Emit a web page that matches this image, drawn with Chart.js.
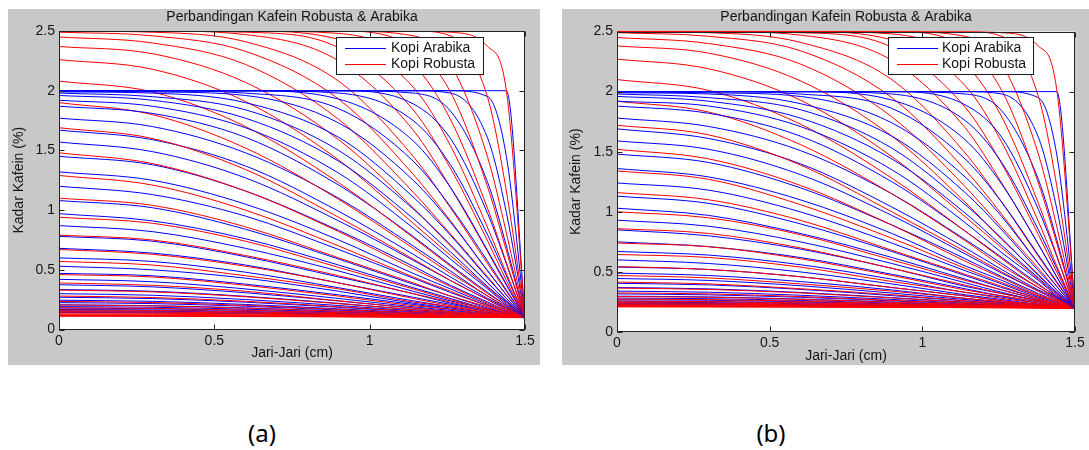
<!DOCTYPE html>
<html>
<head>
<meta charset="utf-8">
<script src="https://cdn.jsdelivr.net/npm/chart.js@4.4.1/dist/chart.umd.min.js"></script>
<style>
  html, body { margin: 0; padding: 0; background: #ffffff; }
  body { width: 1089px; height: 450px; position: relative; overflow: hidden; }
  .panel { position: absolute; top: 9px; height: 356px; background: #c8c8c8; }
  #panelA { left: 8px; width: 532px; }
  #panelB { left: 562px; width: 527px; }
  .panel canvas { position: absolute; left: 0; top: 0; }
  .cap { position: absolute; top: 416px; width: 60px; text-align: center; font-family: "Noto Sans", "Open Sans", sans-serif; font-size: 24px; line-height: 34px; color: #000; }
</style>
</head>
<body>
<div class="panel" id="panelA"><canvas id="chartA" width="532" height="356"></canvas></div>
<div class="panel" id="panelB"><canvas id="chartB" width="527" height="356"></canvas></div>
<div class="cap" style="left:232px">(a)</div>
<div class="cap" style="left:741px">(b)</div>
<script>
// ---- data ----
const radius = [0, 0.3, 0.6, 0.9, 1.14, 1.26, 1.38, 1.44, 1.5];
const xTickValues = [0, 0.5, 1, 1.5];
const yTickValues = [0, 0.5, 1, 1.5, 2, 2.5];
const seriesNames = ['Kopi Arabika', 'Kopi Robusta'];
const chartTitle = 'Perbandingan Kafein Robusta & Arabika';
const xLabel = 'Jari-Jari (cm)';
const yLabel = 'Kadar Kafein (%)';

const arabikaA = [
[2,2,2,2,2,2,2,2,0.1],
[2,2,2,2,2,2,1.95,1.45,0.1],
[2,2,2,2,2,1.98,1.6,0.98,0.1],
[2,2,2,2,1.98,1.83,1.23,0.7,0.1],
[2,2,2,2,1.89,1.6,0.97,0.55,0.1],
[2,2,2,1.98,1.75,1.38,0.79,0.45,0.1],
[2,2,2,1.93,1.58,1.19,0.66,0.38,0.1],
[2,2,1.98,1.85,1.41,1.03,0.57,0.33,0.1],
[2,1.99,1.96,1.73,1.25,0.9,0.49,0.29,0.1],
[1.99,1.98,1.9,1.61,1.11,0.79,0.43,0.26,0.1],
[1.98,1.95,1.84,1.5,1.01,0.71,0.39,0.24,0.1],
[1.96,1.92,1.77,1.41,0.93,0.65,0.36,0.23,0.1],
[1.92,1.87,1.69,1.31,0.85,0.59,0.34,0.21,0.1],
[1.87,1.81,1.61,1.21,0.78,0.54,0.31,0.2,0.1],
[1.77,1.7,1.48,1.1,0.7,0.49,0.28,0.19,0.1],
[1.67,1.59,1.37,0.99,0.63,0.44,0.26,0.18,0.1],
[1.57,1.49,1.27,0.91,0.58,0.41,0.25,0.17,0.1],
[1.45,1.38,1.16,0.83,0.53,0.37,0.23,0.16,0.1],
[1.32,1.25,1.05,0.75,0.47,0.34,0.21,0.15,0.1],
[1.2,1.13,0.95,0.67,0.43,0.31,0.2,0.15,0.1],
[1.08,1.02,0.84,0.59,0.38,0.28,0.18,0.14,0.1],
[0.97,0.91,0.76,0.54,0.35,0.26,0.17,0.14,0.1],
[0.87,0.82,0.68,0.49,0.32,0.24,0.17,0.13,0.1],
[0.78,0.74,0.61,0.44,0.3,0.22,0.16,0.13,0.1],
[0.68,0.64,0.54,0.39,0.27,0.21,0.15,0.12,0.1],
[0.6,0.57,0.48,0.35,0.24,0.19,0.14,0.12,0.1],
[0.53,0.5,0.43,0.32,0.22,0.18,0.14,0.12,0.1],
[0.47,0.45,0.38,0.29,0.21,0.17,0.13,0.115,0.1],
[0.42,0.4,0.34,0.26,0.19,0.16,0.128,0.113,0.1],
[0.375,0.357,0.308,0.239,0.179,0.15,0.124,0.111,0.1],
[0.335,0.32,0.278,0.219,0.167,0.143,0.12,0.11,0.1],
[0.3,0.287,0.251,0.201,0.157,0.137,0.117,0.108,0.1],
[0.27,0.259,0.229,0.186,0.149,0.131,0.115,0.107,0.1],
[0.245,0.236,0.21,0.173,0.142,0.126,0.112,0.106,0.1],
[0.225,0.217,0.195,0.163,0.136,0.123,0.111,0.105,0.1],
[0.207,0.2,0.181,0.154,0.131,0.12,0.109,0.104,0.1],
[0.192,0.186,0.17,0.146,0.126,0.117,0.108,0.104,0.1],
[0.179,0.174,0.16,0.14,0.123,0.114,0.107,0.103,0.1],
[0.168,0.164,0.151,0.134,0.119,0.112,0.106,0.103,0.1],
[0.158,0.154,0.144,0.129,0.117,0.111,0.105,0.102,0.1],
[0.15,0.147,0.138,0.125,0.114,0.109,0.104,0.102,0.1],
[0.143,0.14,0.133,0.122,0.112,0.108,0.104,0.102,0.1]
];

const robustaA = [
[2.5,2.5,2.5,2.5,2.5,2.49,2.37,2.0,0.1],
[2.5,2.5,2.5,2.5,2.5,2.46,1.94,1.16,0.1],
[2.5,2.5,2.5,2.5,2.46,2.22,1.44,0.81,0.1],
[2.5,2.5,2.5,2.5,2.36,1.99,1.19,0.66,0.1],
[2.5,2.5,2.5,2.48,2.22,1.76,1.01,0.56,0.1],
[2.5,2.5,2.5,2.43,2.03,1.54,0.85,0.47,0.1],
[2.5,2.5,2.49,2.36,1.84,1.35,0.74,0.41,0.1],
[2.5,2.5,2.47,2.25,1.67,1.19,0.65,0.37,0.1],
[2.5,2.49,2.41,2.08,1.45,1.02,0.55,0.32,0.1],
[2.49,2.46,2.33,1.93,1.3,0.91,0.49,0.29,0.1],
[2.45,2.4,2.22,1.76,1.15,0.8,0.44,0.26,0.1],
[2.37,2.31,2.07,1.59,1.02,0.7,0.39,0.24,0.1],
[2.26,2.18,1.91,1.42,0.89,0.62,0.35,0.22,0.1],
[2.08,1.99,1.7,1.23,0.77,0.53,0.3,0.2,0.1],
[1.9,1.8,1.52,1.09,0.68,0.47,0.28,0.18,0.1],
[1.69,1.6,1.34,0.94,0.59,0.41,0.25,0.17,0.1],
[1.48,1.39,1.16,0.82,0.51,0.36,0.22,0.16,0.1],
[1.29,1.21,1.0,0.7,0.44,0.32,0.2,0.15,0.1],
[1.1,1.04,0.86,0.6,0.39,0.28,0.19,0.14,0.1],
[0.94,0.89,0.74,0.52,0.34,0.25,0.17,0.13,0.1],
[0.79,0.75,0.62,0.45,0.3,0.23,0.16,0.13,0.1],
[0.67,0.63,0.53,0.39,0.26,0.2,0.15,0.12,0.1],
[0.57,0.54,0.45,0.34,0.23,0.19,0.14,0.12,0.1],
[0.46,0.44,0.37,0.28,0.2,0.17,0.13,0.115,0.1],
[0.39,0.37,0.32,0.24,0.18,0.15,0.125,0.112,0.1],
[0.33,0.315,0.274,0.216,0.166,0.142,0.12,0.11,0.1],
[0.28,0.268,0.236,0.191,0.152,0.133,0.116,0.107,0.1],
[0.235,0.226,0.202,0.168,0.139,0.125,0.112,0.106,0.1],
[0.205,0.198,0.179,0.153,0.13,0.119,0.109,0.104,0.1],
[0.182,0.177,0.162,0.141,0.124,0.115,0.107,0.103,0.1],
[0.164,0.16,0.148,0.132,0.118,0.112,0.106,0.103,0.1],
[0.15,0.147,0.138,0.125,0.114,0.109,0.104,0.102,0.1],
[0.139,0.136,0.13,0.12,0.111,0.107,0.103,0.102,0.1],
[0.13,0.128,0.123,0.115,0.109,0.105,0.103,0.101,0.1],
[0.123,0.122,0.117,0.112,0.107,0.104,0.102,0.101,0.1],
[0.118,0.117,0.114,0.109,0.105,0.103,0.102,0.101,0.1],
[0.114,0.113,0.111,0.107,0.104,0.103,0.101,0.1,0.1],
[0.111,0.11,0.108,0.106,0.103,0.102,0.101,0.1,0.1]
];

const arabikaB = [
[2,2,2,2,2,2,2,2,0.2],
[2,2,2,2,2,2,1.95,1.48,0.2],
[2,2,2,2,2,1.98,1.62,1.03,0.2],
[2,2,2,2,1.98,1.84,1.27,0.77,0.2],
[2,2,2,2,1.89,1.62,1.02,0.63,0.2],
[2,2,2,1.98,1.76,1.41,0.85,0.53,0.2],
[2,2,2,1.93,1.6,1.23,0.73,0.46,0.2],
[2,2,1.98,1.86,1.44,1.08,0.64,0.42,0.2],
[2,1.99,1.96,1.74,1.29,0.96,0.57,0.38,0.2],
[1.99,1.98,1.9,1.63,1.16,0.85,0.51,0.35,0.2],
[1.98,1.95,1.85,1.53,1.06,0.78,0.47,0.33,0.2],
[1.96,1.92,1.78,1.44,0.99,0.72,0.45,0.32,0.2],
[1.92,1.88,1.71,1.35,0.91,0.66,0.43,0.3,0.2],
[1.88,1.82,1.63,1.25,0.84,0.62,0.4,0.29,0.2],
[1.78,1.71,1.51,1.15,0.77,0.57,0.37,0.29,0.2],
[1.69,1.61,1.4,1.04,0.7,0.52,0.35,0.28,0.2],
[1.59,1.52,1.31,0.97,0.65,0.49,0.34,0.27,0.2],
[1.48,1.41,1.2,0.89,0.61,0.46,0.32,0.26,0.2],
[1.36,1.29,1.1,0.82,0.55,0.43,0.3,0.25,0.2],
[1.24,1.18,1.0,0.74,0.51,0.4,0.29,0.25,0.2],
[1.13,1.07,0.9,0.67,0.47,0.37,0.28,0.24,0.2],
[1.03,0.97,0.82,0.62,0.44,0.35,0.27,0.23,0.2],
[0.93,0.88,0.75,0.57,0.41,0.33,0.26,0.23,0.2],
[0.85,0.8,0.69,0.53,0.38,0.32,0.26,0.23,0.2],
[0.75,0.71,0.62,0.48,0.36,0.3,0.25,0.22,0.2],
[0.67,0.64,0.56,0.44,0.33,0.29,0.24,0.22,0.2],
[0.6,0.57,0.5,0.4,0.31,0.27,0.23,0.217,0.2],
[0.54,0.52,0.46,0.37,0.3,0.26,0.23,0.214,0.2],
[0.49,0.47,0.42,0.35,0.28,0.25,0.225,0.212,0.2],
[0.445,0.429,0.385,0.324,0.27,0.245,0.221,0.21,0.2],
[0.405,0.392,0.355,0.303,0.259,0.237,0.218,0.209,0.2],
[0.37,0.359,0.329,0.286,0.249,0.231,0.215,0.207,0.2],
[0.34,0.331,0.306,0.271,0.24,0.226,0.212,0.206,0.2],
[0.317,0.309,0.289,0.259,0.234,0.221,0.21,0.205,0.2],
[0.298,0.292,0.274,0.249,0.228,0.218,0.208,0.204,0.2],
[0.282,0.277,0.262,0.241,0.224,0.215,0.207,0.203,0.2],
[0.268,0.264,0.251,0.234,0.219,0.212,0.206,0.203,0.2],
[0.257,0.253,0.243,0.229,0.216,0.21,0.205,0.202,0.2],
[0.248,0.245,0.236,0.224,0.214,0.209,0.204,0.202,0.2],
[0.24,0.237,0.23,0.22,0.211,0.207,0.203,0.202,0.2],
[0.234,0.232,0.226,0.217,0.21,0.206,0.203,0.201,0.2],
[0.228,0.226,0.221,0.214,0.208,0.205,0.202,0.201,0.2]
];

const robustaB = [
[2.5,2.5,2.5,2.5,2.5,2.49,2.38,2.02,0.2],
[2.5,2.5,2.5,2.5,2.5,2.46,1.96,1.22,0.2],
[2.5,2.5,2.5,2.5,2.46,2.23,1.48,0.88,0.2],
[2.5,2.5,2.5,2.5,2.37,2.01,1.24,0.74,0.2],
[2.5,2.5,2.5,2.48,2.23,1.79,1.07,0.64,0.2],
[2.5,2.5,2.5,2.43,2.05,1.58,0.92,0.55,0.2],
[2.5,2.5,2.49,2.37,1.87,1.4,0.81,0.5,0.2],
[2.5,2.5,2.47,2.26,1.7,1.24,0.73,0.46,0.2],
[2.5,2.49,2.41,2.1,1.49,1.08,0.63,0.41,0.2],
[2.49,2.46,2.34,1.95,1.35,0.98,0.57,0.38,0.2],
[2.45,2.4,2.23,1.79,1.21,0.87,0.53,0.35,0.2],
[2.38,2.32,2.09,1.63,1.08,0.77,0.48,0.33,0.2],
[2.27,2.19,1.93,1.46,0.96,0.7,0.44,0.31,0.2],
[2.1,2.01,1.73,1.28,0.84,0.61,0.39,0.3,0.2],
[1.92,1.83,1.56,1.15,0.76,0.55,0.37,0.28,0.2],
[1.72,1.64,1.39,1.0,0.67,0.5,0.34,0.27,0.2],
[1.52,1.44,1.22,0.89,0.59,0.45,0.31,0.26,0.2],
[1.34,1.27,1.06,0.78,0.53,0.41,0.3,0.25,0.2],
[1.16,1.1,0.93,0.68,0.48,0.38,0.28,0.24,0.2],
[1.0,0.95,0.81,0.6,0.43,0.35,0.27,0.23,0.2],
[0.86,0.82,0.7,0.53,0.39,0.32,0.26,0.23,0.2],
[0.74,0.71,0.61,0.47,0.35,0.3,0.25,0.22,0.2],
[0.645,0.62,0.54,0.42,0.33,0.28,0.24,0.22,0.2],
[0.545,0.52,0.46,0.37,0.3,0.26,0.23,0.214,0.2],
[0.47,0.45,0.4,0.34,0.28,0.25,0.223,0.211,0.2],
[0.415,0.4,0.36,0.31,0.26,0.24,0.219,0.209,0.2],
[0.365,0.354,0.325,0.283,0.247,0.23,0.214,0.207,0.2],
[0.325,0.317,0.295,0.263,0.236,0.223,0.211,0.205,0.2],
[0.295,0.289,0.272,0.248,0.227,0.217,0.208,0.204,0.2],
[0.274,0.269,0.256,0.237,0.221,0.214,0.206,0.203,0.2],
[0.257,0.253,0.243,0.229,0.216,0.21,0.205,0.202,0.2],
[0.244,0.241,0.233,0.222,0.213,0.208,0.204,0.202,0.2],
[0.234,0.232,0.226,0.217,0.21,0.206,0.203,0.201,0.2],
[0.226,0.224,0.22,0.213,0.207,0.205,0.202,0.201,0.2],
[0.22,0.219,0.215,0.21,0.206,0.204,0.202,0.201,0.2],
[0.215,0.214,0.211,0.208,0.204,0.203,0.201,0.2,0.2],
[0.212,0.211,0.209,0.206,0.203,0.202,0.201,0.2,0.2],
[0.209,0.208,0.207,0.205,0.203,0.202,0.201,0.2,0.2]
];

// ---- styling ----
const BLUE = '#0000ff';
const RED = '#ff0000';
const TEXT = '#151515';
const FONT = { family: '"Liberation Sans", Arial, sans-serif', size: 14, weight: 'normal' };

function makeDatasets(blue, red) {
  const out = [];
  const n = Math.max(blue.length, red.length);
  for (let i = 0; i < n; i++) {
    if (i < red.length) out.push({
      label: seriesNames[1],
      data: radius.map((x, j) => ({ x: x, y: red[i][j] })),
      borderColor: RED, borderWidth: 1, pointRadius: 0, fill: false,
      cubicInterpolationMode: 'monotone'
    });
    if (i < blue.length) out.push({
      label: seriesNames[0],
      data: radius.map((x, j) => ({ x: x, y: blue[i][j] })),
      borderColor: BLUE, borderWidth: 1, pointRadius: 0, fill: false,
      cubicInterpolationMode: 'monotone'
    });
  }
  return out;
}

const plotBg = {
  id: 'plotBg',
  beforeDraw(chart) {
    const a = chart.chartArea, c = chart.ctx;
    c.save(); c.fillStyle = '#ffffff';
    c.fillRect(a.left, a.top, a.right - a.left, a.bottom - a.top);
    c.restore();
  }
};

const frame = {
  id: 'frame',
  afterDatasetsDraw(chart) {
    const a = chart.chartArea, c = chart.ctx;
    const xs = chart.scales.x, ys = chart.scales.y;
    const L = Math.round(a.left) + 0.5, R = Math.round(a.right) - 0.5;
    const T = Math.round(a.top) + 0.5, B = Math.round(a.bottom) - 0.5;
    c.save();
    c.strokeStyle = '#222222'; c.lineWidth = 1;
    c.strokeRect(L, T, R - L, B - T);
    c.beginPath();
    xTickValues.forEach(v => {
      const p = Math.round(xs.getPixelForValue(v)) + 0.5;
      c.moveTo(p, B); c.lineTo(p, B - 5);
      c.moveTo(p, T); c.lineTo(p, T + 5);
    });
    yTickValues.forEach(v => {
      const p = Math.round(ys.getPixelForValue(v)) + 0.5;
      c.moveTo(L, p); c.lineTo(L + 5, p);
      c.moveTo(R, p); c.lineTo(R - 5, p);
    });
    c.stroke();
    c.restore();
  }
};

const legendBox = {
  id: 'legendBox',
  afterDraw(chart, args, o) {
    const c = chart.ctx;
    c.save();
    c.fillStyle = '#ffffff';
    c.fillRect(o.x, o.y, o.w, o.h);
    c.strokeStyle = '#1a1a1a'; c.lineWidth = 1;
    c.strokeRect(Math.round(o.x) + 0.5, Math.round(o.y) + 0.5, Math.round(o.w), Math.round(o.h));
    const cols = [BLUE, RED];
    c.font = FONT.size + 'px ' + FONT.family;
    c.textBaseline = 'middle'; c.fillStyle = TEXT;
    seriesNames.forEach((name, i) => {
      const yy = Math.round(o.y + o.row0 + i * o.rowGap) + 0.5;
      c.strokeStyle = cols[i];
      c.beginPath(); c.moveTo(o.x + o.lx0, yy); c.lineTo(o.x + o.lx1, yy); c.stroke();
      c.fillStyle = TEXT;
      c.fillText(name, o.x + o.tx, yy);
    });
    c.restore();
  }
};

function makeChart(id, blue, red, g) {
  return new Chart(document.getElementById(id), {
    type: 'line',
    data: { datasets: makeDatasets(blue, red) },
    plugins: [plotBg, frame, legendBox],
    options: {
      responsive: false, animation: false, events: [],
      layout: { padding: { left: 0, right: g.padRight, top: 0, bottom: 0 } },
      plugins: {
        legend: { display: false },
        tooltip: { enabled: false },
        title: { display: true, text: chartTitle, fullSize: false, color: TEXT, font: FONT,
                 padding: { top: 0, bottom: g.titleGap } },
        legendBox: g.legend
      },
      scales: {
        x: {
          type: 'linear', min: 0, max: 1.5,
          afterBuildTicks: s => { s.ticks = xTickValues.map(v => ({ value: v })); },
          afterFit: s => { s.height = g.xHeight; },
          ticks: { autoSkip: false, maxRotation: 0, padding: 3, color: TEXT, font: FONT, callback: v => String(v) },
          grid: { display: false, drawTicks: false },
          border: { display: false },
          title: { display: true, text: xLabel, color: TEXT, font: FONT, padding: { top: 0, bottom: g.xTitlePad } }
        },
        y: {
          type: 'linear', min: 0, max: 2.5,
          afterBuildTicks: s => { s.ticks = yTickValues.map(v => ({ value: v })); },
          afterFit: s => { s.width = g.yWidth; },
          ticks: { autoSkip: false, padding: 4, color: TEXT, font: FONT, callback: v => String(v) },
          grid: { display: false, drawTicks: false },
          border: { display: false },
          title: { display: true, text: yLabel, color: TEXT, font: FONT, padding: { top: g.yTitlePad, bottom: 0 } }
        }
      }
    }
  });
}

makeChart('chartA', arabikaA, robustaA, {
  padRight: 15, titleGap: 5.2, xHeight: 35.5, yWidth: 51, xTitlePad: 3.3, yTitlePad: 2.7,
  legend: { x: 328, y: 28, w: 147, h: 37, row0: 10.7, rowGap: 16.6, lx0: 9, lx1: 50, tx: 55 }
});
makeChart('chartB', arabikaB, robustaB, {
  padRight: 14, titleGap: 5.7, xHeight: 33, yWidth: 55, xTitlePad: 0.3, yTitlePad: 5.7,
  legend: { x: 326, y: 28, w: 145, h: 37, row0: 10.7, rowGap: 16.6, lx0: 9, lx1: 50, tx: 54 }
});
</script>
</body>
</html>
